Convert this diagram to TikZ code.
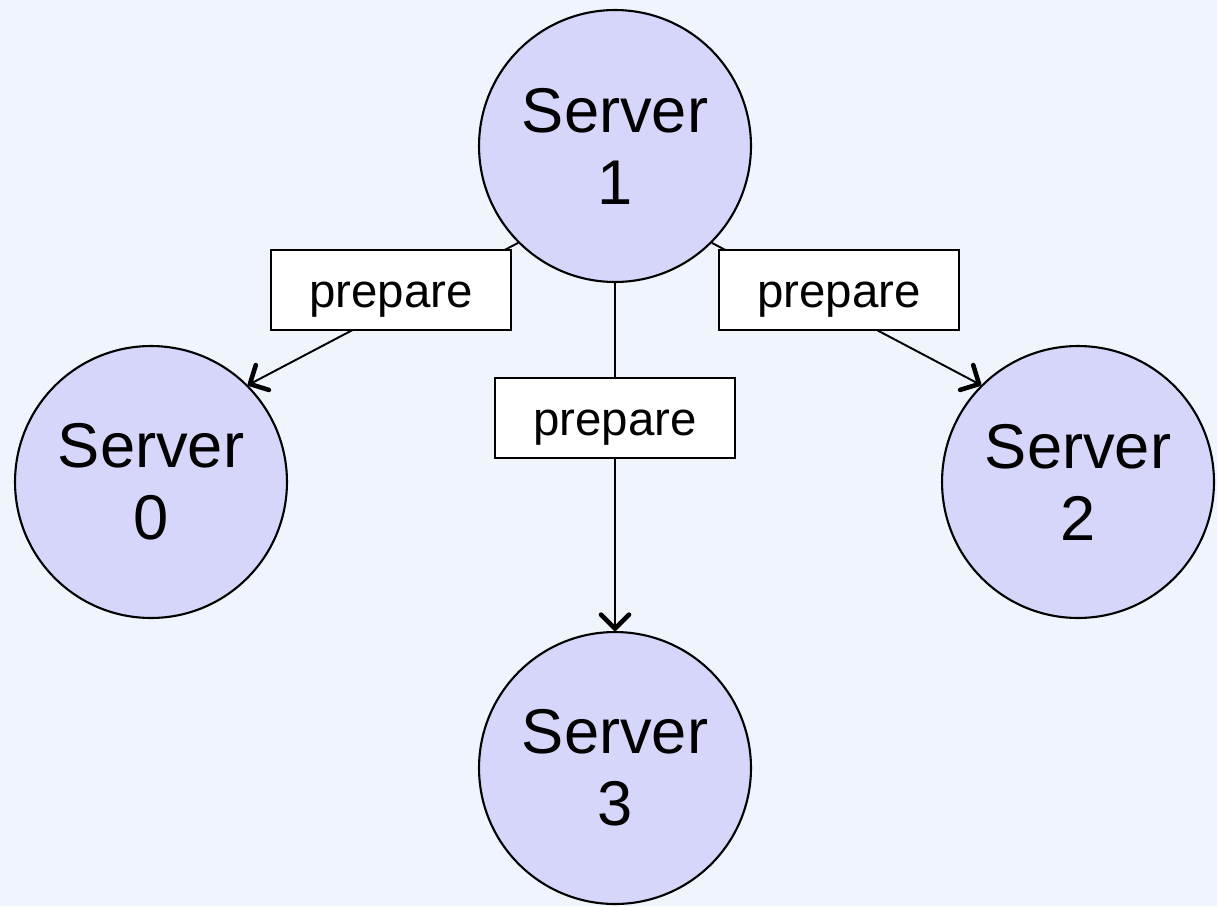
\documentclass[tikz,border=0pt]{standalone}
\usepackage{fontspec}
\setmainfont{Liberation Sans}
\usetikzlibrary{arrows.meta}
\definecolor{bgcol}{RGB}{240,244,253}
\definecolor{srvfill}{RGB}{213,214,250}
\begin{document}
\begin{tikzpicture}[x=0.02cm,y=-0.02cm,
  server/.style={circle,draw=black,line width=1.2pt,fill=srvfill,minimum size=5.44cm,inner sep=0pt,align=center,font=\fontsize{36}{41}\selectfont},
  lbl/.style={rectangle,draw=black,line width=1.5pt,fill=white,minimum width=4.8cm,minimum height=1.6cm,inner sep=0pt,text height=20pt,text depth=0pt,font=\fontsize{27}{30}\selectfont},
  conn/.style={draw=black,line width=1.1pt,-{Straight Barb[length=8pt,width=16pt,line width=2.6pt,round]}}]
\fill[bgcol] (0,0) rectangle (1217,906);
\useasboundingbox (0,0) rectangle (1217,906);
\node[server] (s1) at (615,146) {Server\\1};
\node[server] (s0) at (151,482) {Server\\0};
\node[server] (s2) at (1078,482) {Server\\2};
\node[server] (s3) at (615,768) {Server\\3};
\draw[conn] (s1.south west) -- (s0.north east);
\draw[conn] (s1.south east) -- (s2.north west);
\draw[conn] (s1.south) -- (s3.north);
\node[lbl] (l0) at (391,290) {prepare};
\node[lbl] (l2) at (839,290) {prepare};
\node[lbl] (l3) at (615,418) {prepare};
\end{tikzpicture}
\end{document}
